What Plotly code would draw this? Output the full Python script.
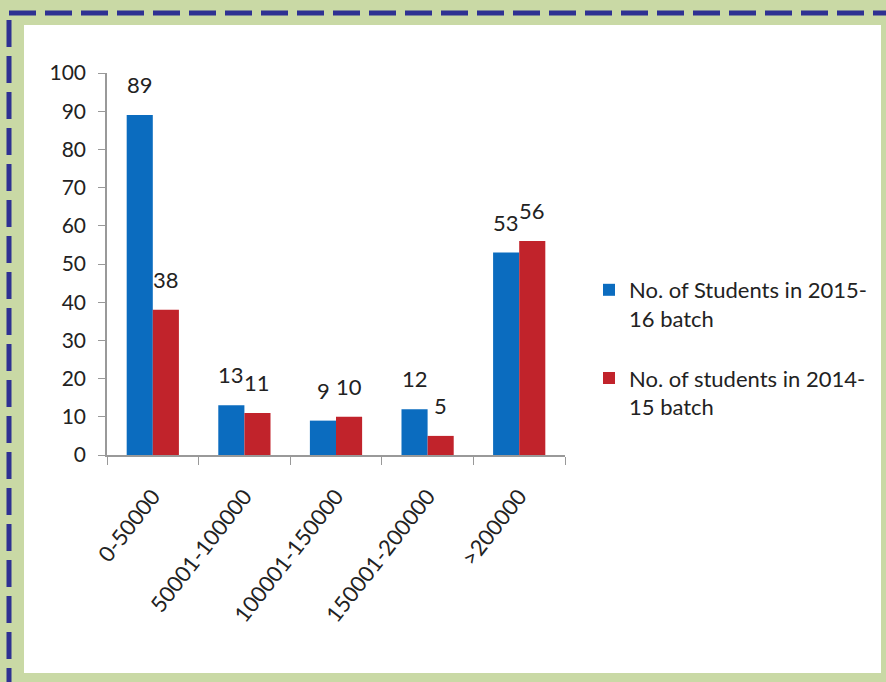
import plotly.graph_objects as go

categories = ["0-50000", "50001-100000", "100001-150000", "150001-200000", ">200000"]
series_2015 = [89, 13, 9, 12, 53]
series_2014 = [38, 11, 10, 5, 56]
name_2015 = "No. of Students in 2015-<br>16 batch"
name_2014 = "No. of students in 2014-<br>15 batch"
y_ticks = list(range(0, 101, 10))

W, H = 886, 682
L, R, T, B = 107, 321, 73, 227
PW, PH = W - L - R, H - T - B

def px(x):
    return (x - L) / PW

def py(y):
    return (H - B - y) / PH

FONT = "Lato"
BLUE = "#0b6cbf"
RED = "#c1232b"
TXT = "#222222"

fig = go.Figure()
fig.add_trace(go.Bar(x=categories, y=series_2015, name=name_2015, marker_color=BLUE,
                     marker_line_width=0, legendgroup="a"))
fig.add_trace(go.Bar(x=categories, y=series_2014, name=name_2014, marker_color=RED,
                     marker_line_width=0, legendgroup="b"))

annotations = []
for vals, shift in ((series_2015, -13), (series_2014, 13)):
    for c, v in zip(categories, vals):
        annotations.append(dict(x=c, y=v, text=str(v), showarrow=False, xref="x", yref="y",
                                xanchor="center", yanchor="bottom", xshift=shift, yshift=15,
                                font=dict(family=FONT, size=22, color=TXT)))

shapes = [
    dict(type="rect", xref="paper", yref="paper", x0=px(24), x1=px(881), y0=py(25), y1=py(673),
         fillcolor="white", line_width=0, layer="below"),
    dict(type="rect", xref="paper", yref="paper", x0=px(9), x1=px(905), y0=py(13), y1=py(700),
         fillcolor="rgba(0,0,0,0)", line=dict(color="#2e3192", width=5, dash="27px,9px"),
         layer="above"),
]

fig.update_layout(
    width=W, height=H, autosize=False,
    margin=dict(l=L, r=R, t=T, b=B, pad=0),
    paper_bgcolor="#c9d9a5",
    plot_bgcolor="white",
    barmode="group", bargap=0.43, bargroupgap=0,
    font=dict(family=FONT, size=20, color=TXT),
    showlegend=True,
    legend=dict(x=px(589), y=py(269), xanchor="left", yanchor="top",
                font=dict(family=FONT, size=22, color=TXT),
                valign="top", tracegroupgap=28, bgcolor="rgba(0,0,0,0)"),
    xaxis=dict(type="category", tickangle=-52, tickson="boundaries", ticks="outside",
               ticklen=8, tickcolor="#999999", showline=True, linecolor="#999999", linewidth=1.5,
               showgrid=False, ticklabelstandoff=18,
               tickfont=dict(family=FONT, size=22, color=TXT)),
    yaxis=dict(range=[0, 100], tickvals=y_ticks, ticks="outside", ticklen=7,
               tickcolor="#999999", showline=True, linecolor="#999999", linewidth=1.5,
               showgrid=False, zeroline=False, ticklabelstandoff=8,
               tickfont=dict(family=FONT, size=21, color=TXT)),
    annotations=annotations,
    shapes=shapes,
)

fig.write_html("out.html", config={"displayModeBar": False},
               post_script="document.body.style.margin='0';")
